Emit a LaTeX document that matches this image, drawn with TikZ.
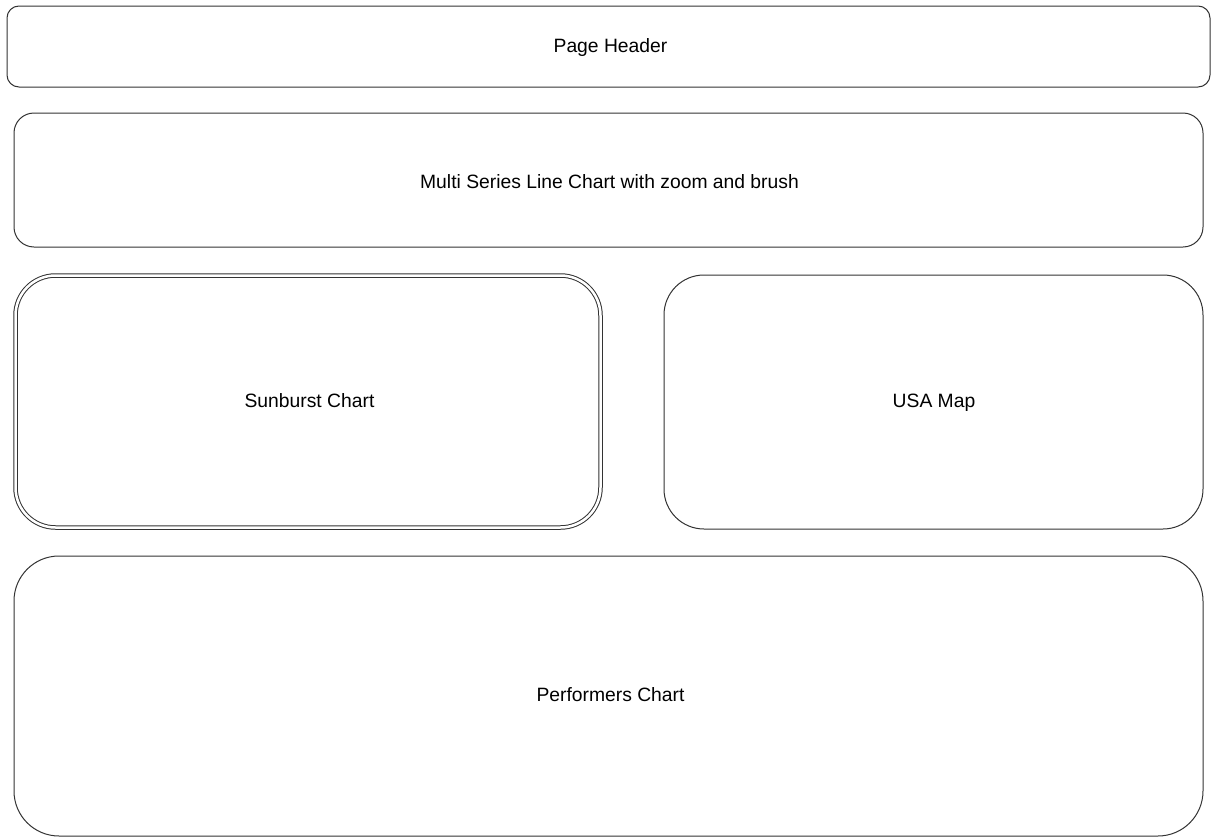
\documentclass[tikz,border=0pt]{standalone}
\usepackage{fontspec}
\setmainfont{Liberation Sans}
\begin{document}
\begin{tikzpicture}[x=1pt,y=-1pt,
  panel/.style={draw=black!80, line width=1pt},
  label/.style={font=\fontsize{19.3}{22}\selectfont, text=black, inner sep=0pt}]
\useasboundingbox (0,0) rectangle (1211,838);
% page header
\draw[panel, rounded corners=12] (7,6) rectangle (1210,87);
\node[label] (header) at (610.5,48) {Page Header};
% line chart panel
\draw[panel, rounded corners=20] (14,113) rectangle (1203,247);
\node[label] (line) at (609.5,182) {Multi Series Line Chart with zoom and brush};
% sunburst panel, double border
\draw[panel, double=white, double distance=2.5pt, rounded corners=40] (15.5,275.5) rectangle (600.5,527.5);
\node[label] (sun) at (309.5,401) {Sunburst Chart};
% map panel
\draw[panel, rounded corners=40] (664,275) rectangle (1203,529);
\node[label] (map) at (934,403) {USA Map};
% performers panel
\draw[panel, rounded corners=45] (14,556) rectangle (1203,836);
\node[label] (perf) at (610.5,695) {Performers Chart};
\end{tikzpicture}
\end{document}
